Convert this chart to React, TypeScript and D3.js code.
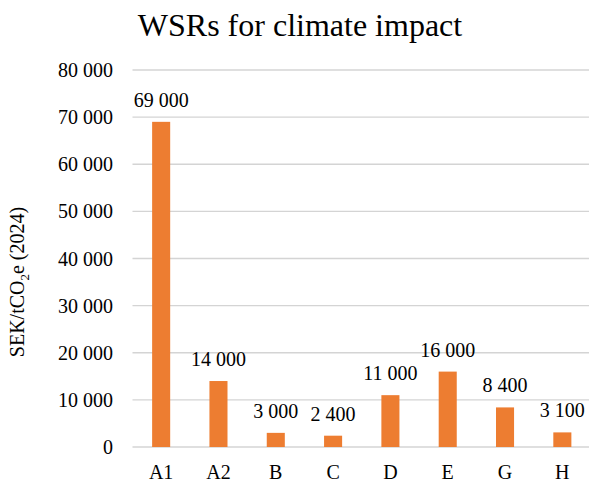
import React from "react";
import * as d3 from "d3";

const categories = ["A1", "A2", "B", "C", "D", "E", "G", "H"];
const values = [69000, 14000, 3000, 2400, 11000, 16000, 8400, 3100];
const yTicks = [0, 10000, 20000, 30000, 40000, 50000, 60000, 70000, 80000];

const W = 589;
const H = 485;
const FONT = "'Liberation Serif', 'DejaVu Serif', serif";

const fmt = (v: number) => {
  const s = String(Math.round(v));
  return s.replace(/\B(?=(\d{3})+(?!\d))/g, " ");
};

export default function App() {
  const x = d3
    .scaleBand<string>()
    .domain(categories)
    .range([132.5, 591])
    .paddingInner(0.685)
    .paddingOuter(0.3425);
  const y = d3.scaleLinear().domain([0, 80000]).range([447, 70]);

  return (
    <svg
      width={W}
      height={H}
      style={{ position: "absolute", left: 0, top: 0, background: "#fff" }}
    >
      <g fontFamily={FONT}>
        <text x={300} y={36} textAnchor="middle" fontSize={32} fill="#000">
          WSRs for climate impact
        </text>

        {yTicks.map((t) => (
          <g key={t}>
            <line
              x1={132.5}
              x2={W}
              y1={y(t)}
              y2={y(t)}
              stroke="#d4d4d4"
              strokeWidth={1.4}
            />
            <text
              x={113}
              y={y(t)}
              dy="0.35em"
              textAnchor="end"
              fontSize={20}
              fill="#000"
            >
              {fmt(t)}
            </text>
          </g>
        ))}

        <text
          transform={`translate(24, 282) rotate(-90)`}
          textAnchor="middle"
          fontSize={20}
          fill="#000"
        >
          SEK/tCO
          <tspan fontSize={13} dy={5}>
            2
          </tspan>
          <tspan dy={-5}>e (2024)</tspan>
        </text>

        {categories.map((c, i) => {
          const v = values[i];
          const bx = x(c)!;
          const cx = bx + x.bandwidth() / 2;
          return (
            <g key={c}>
              <rect
                x={bx}
                y={y(v)}
                width={x.bandwidth()}
                height={y(0) - y(v)}
                fill="#ED7D31"
              />
              <text
                x={cx}
                y={y(v) - 15}
                textAnchor="middle"
                fontSize={20}
                fill="#000"
              >
                {fmt(v)}
              </text>
              <text x={cx} y={479} textAnchor="middle" fontSize={20} fill="#000">
                {c}
              </text>
            </g>
          );
        })}
      </g>
    </svg>
  );
}
